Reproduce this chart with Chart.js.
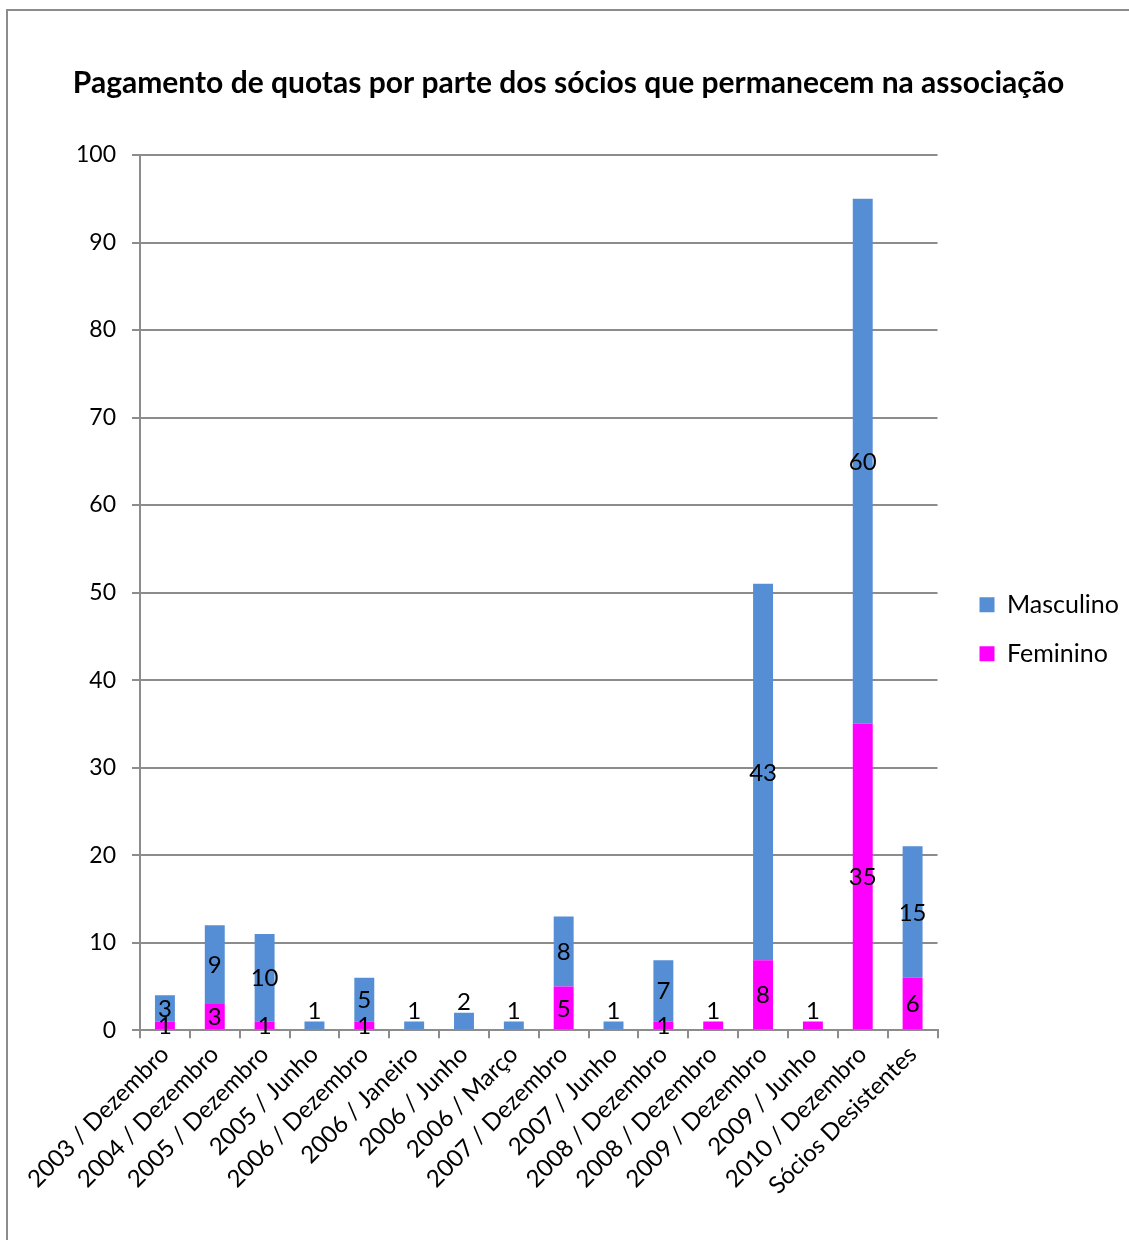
<!DOCTYPE html>
<html>
<head>
<meta charset="utf-8">
<script src="https://cdn.jsdelivr.net/npm/chart.js@4"></script>
<style>
    html, body { margin: 0; padding: 0; background: #fff; }
    #box {
        position: absolute;
        left: 6px;
        top: 9px;
        width: 1130px;
        height: 1240px;
        border: 2px solid #8c8c8c;
        box-sizing: border-box;
        background: #fff;
    }
    #wrap { position: absolute; left: 0; top: 0; width: 1126px; height: 1236px; }
</style>
</head>
<body>
<div id="box"><div id="wrap"><canvas id="myChart"></canvas></div></div>
<script>
    "use strict";

    var categories = [
        "2003 / Dezembro",
        "2004 / Dezembro",
        "2005 / Dezembro",
        "2005 / Junho",
        "2006 / Dezembro",
        "2006 / Janeiro",
        "2006 / Junho",
        "2006 / Março",
        "2007 / Dezembro",
        "2007 / Junho",
        "2008 / Dezembro",
        "2008 / Dezembro",
        "2009 / Dezembro",
        "2009 / Junho",
        "2010 / Dezembro",
        "Sócios Desistentes"
    ];
    var feminino = [1, 3, 1, 0, 1, 0, 0, 0, 5, 0, 1, 1, 8, 1, 35, 6];
    var masculino = [3, 9, 10, 1, 5, 1, 2, 1, 8, 1, 7, 0, 43, 0, 60, 15];
    var yTicks = [0, 10, 20, 30, 40, 50, 60, 70, 80, 90, 100];

    var FONT = "Lato, 'Open Sans', sans-serif";
    var GRID = "#8c8c8c";

    // values drawn in the middle of each segment, like Excel's data labels
    var barLabels = {
        id: "barLabels",
        afterDatasetsDraw: function (chart) {
            var ctx = chart.ctx;
            ctx.save();
            ctx.font = "24px " + FONT;
            ctx.fillStyle = "#000";
            ctx.textAlign = "center";
            ctx.textBaseline = "middle";
            chart.data.datasets.forEach(function (ds, di) {
                var meta = chart.getDatasetMeta(di);
                meta.data.forEach(function (bar, i) {
                    var v = ds.data[i];
                    if (!v) return;
                    var other = chart.data.datasets[1 - di].data[i];
                    var y = (bar.y + bar.base) / 2;
                    if (!other && v <= 2) y = bar.y - 11;
                    ctx.fillText(String(v), bar.x, y + 1);
                });
            });
            ctx.restore();
        }
    };

    var ctx = document.getElementById("myChart");

    var myChart = new Chart(ctx, {
        type: "bar",
        data: {
            labels: categories,
            datasets: [
                {
                    label: "Feminino",
                    data: feminino,
                    backgroundColor: "#ff00ff",
                    borderWidth: 0
                },
                {
                    label: "Masculino",
                    data: masculino,
                    backgroundColor: "#558ed5",
                    borderWidth: 0
                }
            ]
        },
        plugins: [barLabels],
        options: {
            responsive: true,
            maintainAspectRatio: false,
            animation: false,
            datasets: {
                bar: {
                    barPercentage: 1,
                    categoryPercentage: 0.4
                }
            },
            layout: {
                padding: { left: 0, right: 5, top: 0, bottom: 45 }
            },
            scales: {
                x: {
                    stacked: true,
                    grid: {
                        offset: true,
                        drawOnChartArea: false,
                        drawTicks: true,
                        tickLength: 8,
                        color: GRID,
                        lineWidth: 2
                    },
                    border: { color: GRID, width: 2 },
                    ticks: {
                        color: "#000",
                        font: { family: FONT, size: 24 },
                        maxRotation: 45,
                        minRotation: 45,
                        autoSkip: false,
                        padding: 2
                    }
                },
                y: {
                    stacked: true,
                    min: 0,
                    max: 100,
                    afterBuildTicks: function (axis) {
                        axis.ticks = yTicks.map(function (v) { return { value: v }; });
                    },
                    afterFit: function (axis) { axis.width = 132; },
                    grid: {
                        color: GRID,
                        lineWidth: 2,
                        tickLength: 8
                    },
                    border: { color: GRID, width: 2 },
                    ticks: {
                        color: "#000",
                        font: { family: FONT, size: 23 },
                        padding: 16
                    }
                },
                // empty strip between plot and legend
                gap: {
                    position: "right",
                    grid: { display: false },
                    border: { display: false },
                    ticks: { display: false },
                    afterFit: function (axis) { axis.width = 18; }
                }
            },
            plugins: {
                title: {
                    display: true,
                    text: "Pagamento de quotas por parte dos sócios que permanecem na associação",
                    color: "#000",
                    font: { family: FONT, size: 30, weight: "bold" },
                    padding: { top: 54, bottom: 54 }
                },
                legend: {
                    position: "right",
                    reverse: true,
                    title: {
                        display: true,
                        text: " ",
                        padding: { top: 15, bottom: 16 }
                    },
                    labels: {
                        color: "#000",
                        font: { family: FONT, size: 25 },
                        boxWidth: 15,
                        boxHeight: 15,
                        padding: 24
                    }
                },
                tooltip: { enabled: false }
            }
        }
    });
</script>
</body>
</html>
